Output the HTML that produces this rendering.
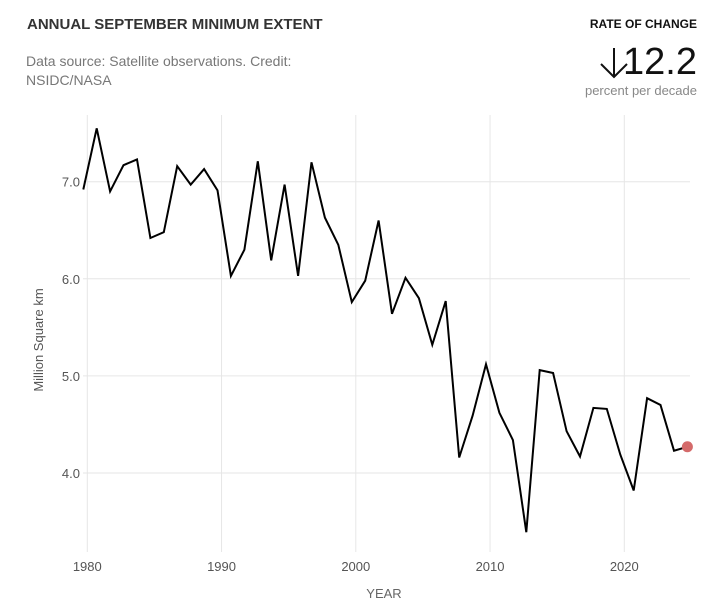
<!DOCTYPE html>
<html><head><meta charset="utf-8"><style>
body{margin:0;background:#fff;font-family:"Liberation Sans",sans-serif;}
#wrap{position:relative;width:716px;height:612px;overflow:hidden;}
.t{position:absolute;white-space:nowrap;}
</style></head><body>
<div id="wrap">
<div class="t" style="left:27px;top:16px;font-size:15px;font-weight:bold;color:#333;">ANNUAL SEPTEMBER MINIMUM EXTENT</div>
<div class="t" style="left:26px;top:52px;font-size:14px;color:#777;line-height:19px;white-space:normal;width:300px;">Data source: Satellite observations. Credit: NSIDC/NASA</div>
<div class="t" style="right:19px;top:17px;font-size:12px;font-weight:bold;color:#111;">RATE OF CHANGE</div>
<div class="t" style="right:19px;top:40px;font-size:38px;color:#111;line-height:44px;">12.2</div>
<svg width="30" height="34" style="position:absolute;left:599px;top:46px"><path d="M15 2 L15 31 M2 18 L15 31 L28 18" fill="none" stroke="#111" stroke-width="2"/></svg>
<div class="t" style="right:19px;top:83px;font-size:13px;color:#888;">percent per decade</div>
<svg id="svg" width="716" height="612" style="position:absolute;left:0;top:0"></svg>
</div>
<script>
const years=[1979,1980,1981,1982,1983,1984,1985,1986,1987,1988,1989,1990,1991,1992,1993,1994,1995,1996,1997,1998,1999,2000,2001,2002,2003,2004,2005,2006,2007,2008,2009,2010,2011,2012,2013,2014,2015,2016,2017,2018,2019,2020,2021,2022,2023,2024];
const extent=[6.92,7.55,6.90,7.17,7.23,6.42,6.48,7.16,6.97,7.13,6.91,6.03,6.30,7.21,6.19,6.97,6.03,7.20,6.63,6.35,5.76,5.98,6.60,5.64,6.01,5.80,5.32,5.77,4.16,4.59,5.12,4.62,4.34,3.39,5.06,5.03,4.43,4.17,4.67,4.66,4.19,3.82,4.77,4.70,4.23,4.27];
const xTicks=[1980,1990,2000,2010,2020];
const yTicks=[4.0,5.0,6.0,7.0];
const ns="http://www.w3.org/2000/svg";
const svg=document.getElementById('svg');
const X=y=>87.3+(y-1980)*13.425;
const Y=v=>181.7+(7-v)*97.1;
function mk(t,a){const e=document.createElementNS(ns,t);for(const k in a)e.setAttribute(k,a[k]);svg.appendChild(e);return e;}
yTicks.forEach(v=>{
 const g=mk('line',{x1:83,x2:690,y1:Y(v),y2:Y(v),stroke:'#e6e6e6','stroke-width':1});
 
 
 const t=mk('text',{x:80,y:Y(v)+5,'text-anchor':'end','font-size':13,fill:'#555','font-family':'Liberation Sans, sans-serif'});
 t.textContent=v.toFixed(1);
 
 
});
xTicks.forEach(v=>{
 const g=mk('line',{x1:X(v),x2:X(v),y1:115,y2:552,stroke:'#e6e6e6','stroke-width':1});
 
 
 const t=mk('text',{x:X(v),y:571,'text-anchor':'middle','font-size':13,fill:'#555','font-family':'Liberation Sans, sans-serif'});
 t.textContent=v;
 
 
});
const xt=mk('text',{x:384,y:598,'text-anchor':'middle','font-size':13,fill:'#666','font-family':'Liberation Sans, sans-serif'});
xt.textContent='YEAR';


const yt=mk('text',{x:0,y:0,'text-anchor':'middle','font-size':13,fill:'#555','font-family':'Liberation Sans, sans-serif',transform:'translate(43,340) rotate(-90)'});
yt.textContent='Million Square km';


const d=years.map((y,i)=>(i?'L':'M')+X(y+0.7).toFixed(1)+','+Y(extent[i]).toFixed(1)).join(' ');
const p=mk('path',{d:d,fill:'none',stroke:'#000','stroke-width':2,'stroke-linejoin':'miter'});


const n=years.length-1;
const c=mk('circle',{cx:X(years[n]+0.7),cy:Y(extent[n]),r:5.5,fill:'#d46a6a'});


</script>
</body></html>
